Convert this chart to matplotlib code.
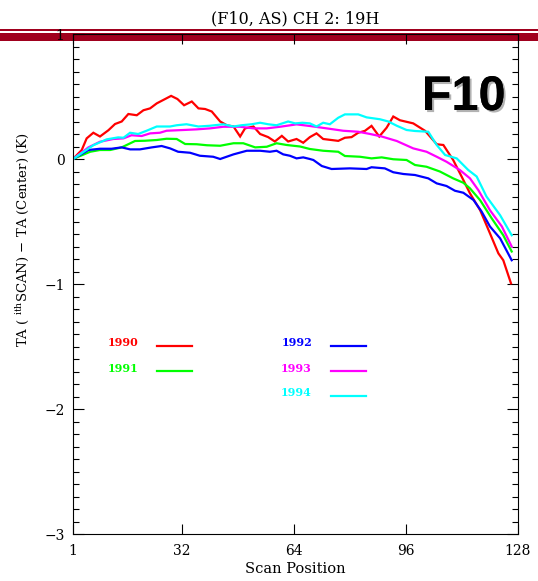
import numpy as np
import matplotlib
matplotlib.use('Agg')
from matplotlib import pyplot as plt
from matplotlib.patches import Rectangle
import matplotlib.patheffects as pe

# (scan position, TA(ith scan) - TA(center))
ta_1990 = np.array([
    [1, 0], [3.5, 0.072], [4.9, 0.165], [6.8, 0.21], [8.7, 0.18], [11.1, 0.23],
    [13, 0.28], [14.9, 0.30], [16.8, 0.36], [19.2, 0.35], [21.1, 0.39], [23, 0.405],
    [24.9, 0.445], [27.3, 0.48], [29, 0.505], [30.8, 0.48], [32.7, 0.43], [34.9, 0.46],
    [36.8, 0.405], [38.7, 0.40], [40.6, 0.38], [43, 0.30], [44.9, 0.27], [46.8, 0.26],
    [48.7, 0.18], [50.1, 0.245], [52.5, 0.26], [54.4, 0.20], [56.7, 0.175], [58.6, 0.14],
    [60.6, 0.185], [62.4, 0.14], [64.8, 0.16], [66.7, 0.13], [68.6, 0.175], [70.5, 0.205],
    [72.4, 0.16], [75.3, 0.15], [76.7, 0.145], [78.6, 0.17], [80.5, 0.175], [82.4, 0.21],
    [84.3, 0.225], [86.2, 0.265], [88.4, 0.18], [90.5, 0.25], [92.4, 0.34], [94.3, 0.31],
    [98.1, 0.285], [101.5, 0.225], [104.8, 0.118], [106.7, 0.112], [109.5, -0.008],
    [111.9, -0.14], [114.3, -0.275], [117.2, -0.41], [120, -0.595], [122.4, -0.755],
    [123.8, -0.81], [126, -0.995]])
ta_1991 = np.array([
    [1, 0], [5.9, 0.058], [8.7, 0.072], [11.6, 0.072], [14.9, 0.093], [18.7, 0.144],
    [21.5, 0.146], [24.9, 0.152], [27.7, 0.162], [30.6, 0.16], [33, 0.12], [36.3, 0.118],
    [39.2, 0.11], [43, 0.106], [46.8, 0.126], [49.6, 0.126], [53, 0.093], [56.3, 0.098],
    [59.1, 0.126], [62, 0.112], [65.8, 0.10], [68.6, 0.08], [72.4, 0.066], [76.7, 0.058],
    [78.6, 0.024], [82.9, 0.018], [86.2, 0.005], [89.1, 0.013], [92.4, -0.002],
    [96.2, -0.008], [98.6, -0.048], [101.9, -0.062], [105.7, -0.10], [109.5, -0.155],
    [112.4, -0.19], [114.3, -0.235], [117.2, -0.33], [120.5, -0.475], [123.8, -0.61],
    [126.2, -0.74]])
ta_1992 = np.array([
    [1, 0], [5.4, 0.072], [8.7, 0.082], [12, 0.082], [14.9, 0.093], [17.3, 0.077],
    [20.1, 0.077], [23.5, 0.093], [26.3, 0.104], [28.7, 0.085], [31, 0.058], [34.4, 0.05],
    [37.2, 0.026], [41, 0.018], [43, 0.0], [46.8, 0.037], [50.6, 0.066], [54.4, 0.066],
    [57.2, 0.058], [59.1, 0.066], [61, 0.037], [62.9, 0.026], [64.8, 0.005], [66.7, 0.013],
    [68.6, 0.0], [69.6, -0.008], [72, -0.056], [74.8, -0.08], [80, -0.075], [84.8, -0.08],
    [86.2, -0.066], [90, -0.075], [92.4, -0.106], [95.3, -0.12], [98.6, -0.128],
    [102.4, -0.155], [104.8, -0.195], [107.6, -0.216], [110, -0.254], [112.4, -0.27],
    [115.3, -0.328], [117.6, -0.42], [120, -0.54], [122.9, -0.635], [126.2, -0.81]])
ta_1993 = np.array([
    [1, 0], [5.4, 0.093], [8.7, 0.138], [12.5, 0.16], [15.4, 0.165], [17.7, 0.19],
    [20.6, 0.184], [23, 0.205], [25.8, 0.21], [27.7, 0.226], [32.5, 0.232], [36.3, 0.237],
    [40.1, 0.245], [43.9, 0.258], [48.7, 0.258], [52.5, 0.245], [56.3, 0.245],
    [60.1, 0.258], [64.8, 0.277], [68.6, 0.264], [73.4, 0.245], [78.1, 0.226],
    [82.4, 0.218], [85.8, 0.20], [89.1, 0.18], [93.4, 0.144], [98.1, 0.085],
    [101.9, 0.058], [104.8, 0.018], [107.6, -0.022], [111.4, -0.088], [114.3, -0.155],
    [116.7, -0.25], [120, -0.41], [123.4, -0.54], [126.2, -0.70]])
ta_1994 = np.array([
    [1, 0], [6.8, 0.11], [10.6, 0.157], [13.9, 0.173], [15.4, 0.17], [17.3, 0.21],
    [19.6, 0.20], [22, 0.226], [24.9, 0.26], [28.7, 0.26], [30.6, 0.27], [33.4, 0.278],
    [36.8, 0.26], [40.1, 0.266], [43.9, 0.278], [46.8, 0.26], [49.1, 0.27], [52, 0.278],
    [54.4, 0.29], [56.7, 0.278], [59.1, 0.27], [62.4, 0.30], [64.4, 0.285], [66.5, 0.29],
    [68.6, 0.285], [70.5, 0.26], [72.4, 0.29], [74.3, 0.278], [76.7, 0.33], [78.6, 0.357],
    [82.4, 0.357], [84.8, 0.333], [88.6, 0.318], [91, 0.30], [93.4, 0.266], [96.2, 0.232],
    [98.6, 0.224], [102.4, 0.218], [104.8, 0.112], [107.2, 0.032], [110.5, 0.005],
    [113.8, -0.088], [116.2, -0.14], [119, -0.30], [122.9, -0.45], [126.2, -0.61]])

years = ['1990', '1991', '1992', '1993', '1994']
series = [ta_1990, ta_1991, ta_1992, ta_1993, ta_1994]
colors = ['#ff0000', '#00ff00', '#0000ff', '#ff00ff', '#00ffff']
xticks = [1, 32, 64, 96, 128]
yticks = [-3, -2, -1, 0, 1]

plt.rcParams['font.family'] = ['DejaVu Serif']
plt.rcParams['mathtext.fontset'] = 'dejavuserif'

W, H = 538, 581
fig = plt.figure(figsize=(W / 100, H / 100), dpi=100)
ax = fig.add_axes([73 / W, 1 - 534 / H, 445 / W, 500 / H])
ax.patch.set_visible(False)

# red double band across the top
band = '#a0001e'
fig.add_artist(Rectangle((0, 1 - 41 / H), 1, 7.7 / H, transform=fig.transFigure,
                         color=band, zorder=-1, lw=0))
fig.add_artist(Rectangle((0, 1 - 31 / H), 1, 1.6 / H, transform=fig.transFigure,
                         color=band, zorder=-1, lw=0))

for yr, d, c in zip(years, series, colors):
    ax.plot(d[:, 0], d[:, 1], color=c, lw=1.6, solid_joinstyle='miter')

ax.set_xlim(1, 128)
ax.set_ylim(-3, 1)
ax.set_xticks(xticks)
ax.set_xticklabels([str(t) for t in xticks])
ax.set_yticks(yticks)
ax.set_yticklabels([str(t).replace('-', '\u2212') for t in yticks])
ax.set_yticks(np.arange(-3, 1.01, 0.1), minor=True)
ax.tick_params(axis='x', which='major', direction='in', top=True, length=7, width=0.8,
               labelsize=10, pad=7)
ax.tick_params(axis='y', which='major', direction='in', right=True, length=8, width=0.8,
               labelsize=10, pad=6)
ax.tick_params(axis='y', which='minor', direction='in', left=True, right=True,
               length=4, width=0.8)
for s in ax.spines.values():
    s.set_linewidth(0.8)

ax.set_xlabel('Scan Position', fontsize=10.5, labelpad=3)
ax.set_ylabel(r'TA ( $^{\mathrm{ith}}$SCAN) $-$ TA (Center) (K)', fontsize=9.5)
ax.yaxis.set_label_coords(-0.094, 0.588)

fig.text(295.5 / W, 1 - 19 / H, '(F10, AS) CH 2: 19H', ha='center', va='center',
         fontsize=11.5)

ax.text(0.972, 0.918, 'F10', transform=ax.transAxes, ha='right', va='top',
        fontsize=35, fontweight='bold', family='Liberation Sans',
        path_effects=[pe.withSimplePatchShadow(offset=(1.5, -1.5),
                                               shadow_rgbFace='gray', alpha=0.6),
                      pe.Normal()])

# hand-placed legend like the original
leg_pos = [(0.146, 0.189, 0.376), (0.146, 0.189, 0.326),
           (0.537, 0.580, 0.376), (0.537, 0.580, 0.326), (0.537, 0.580, 0.276)]
for yr, c, (tx, lx, ly) in zip(years, colors, leg_pos):
    ax.text(tx, ly + 0.006, yr, color=c, transform=ax.transAxes, ha='right',
            va='center', fontsize=8, fontweight='bold')
    ax.plot([lx, lx + 0.079], [ly, ly], color=c, lw=1.6, transform=ax.transAxes)

fig.savefig('out.png', dpi=100)
